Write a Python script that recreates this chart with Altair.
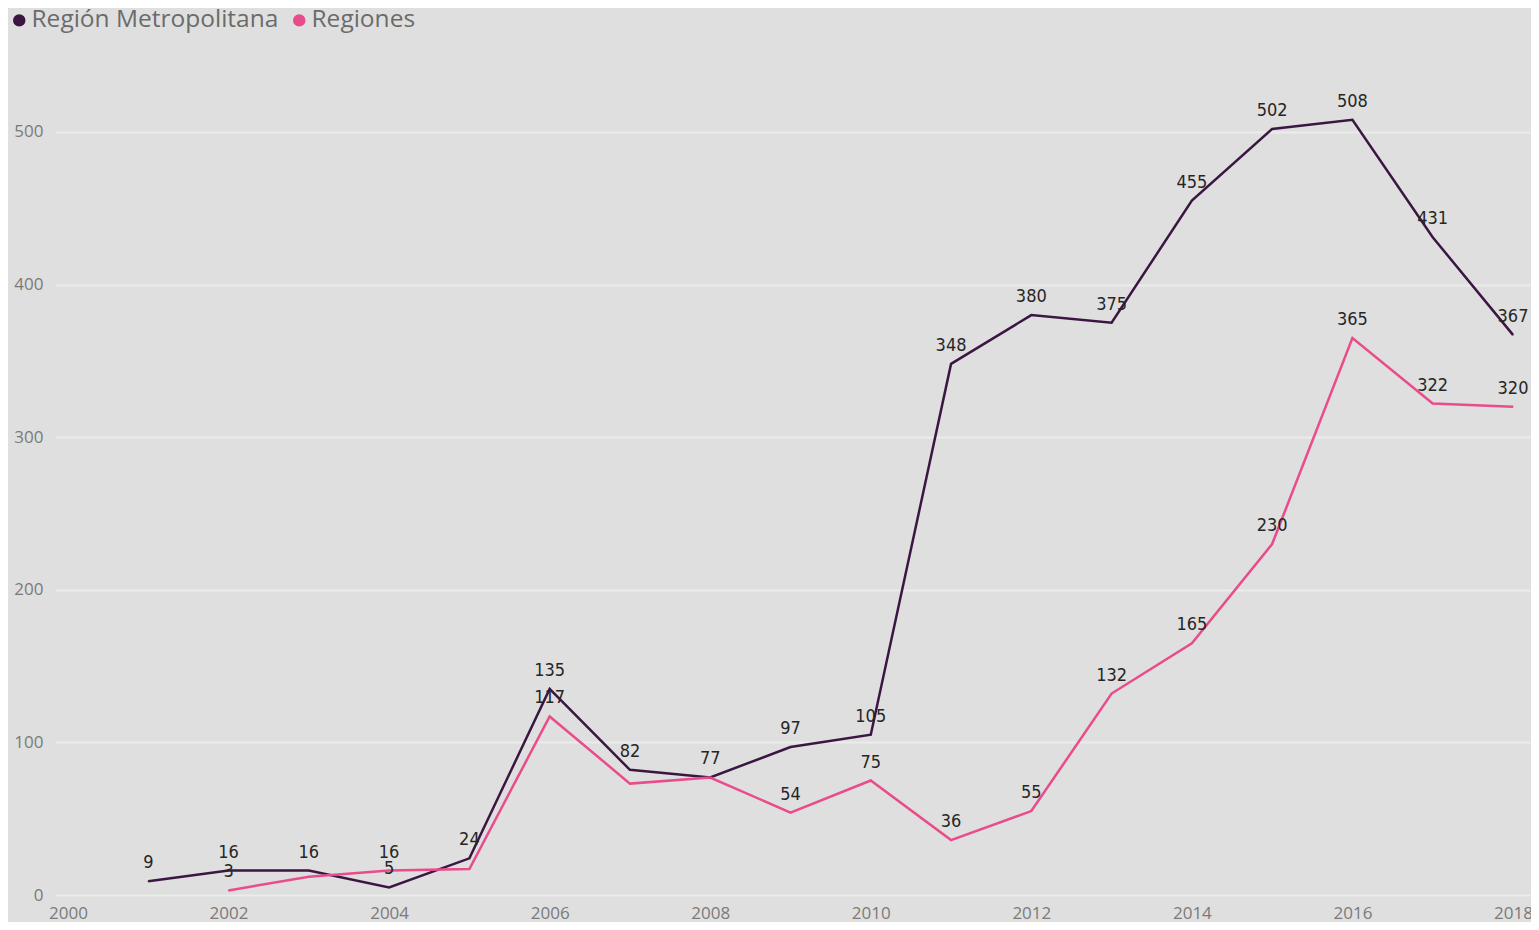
import altair as alt
import pandas as pd

years_metro = list(range(2001, 2019))
metro = [9, 16, 16, 5, 24, 135, 82, 77, 97, 105, 348, 380, 375, 455, 502, 508, 431, 367]
years_reg = list(range(2002, 2019))
regiones = [3, 12, 16, 17, 117, 73, 77, 54, 75, 36, 55, 132, 165, 230, 365, 322, 320]
reg_hidden_labels = [2003, 2005, 2007, 2008]

series_names = ["Región Metropolitana", "Regiones"]
series_colors = ["#3c1642", "#ea4b8b"]
x_ticks = [2000, 2002, 2004, 2006, 2008, 2010, 2012, 2014, 2016, 2018]
y_ticks = [0, 100, 200, 300, 400, 500]

rows = []
for y, v in zip(years_metro, metro):
    rows.append({"serie": series_names[0], "year": y, "value": v, "label": str(v)})
for y, v in zip(years_reg, regiones):
    rows.append({"serie": series_names[1], "year": y, "value": v,
                 "label": "" if y in reg_hidden_labels else str(v)})
df = pd.DataFrame(rows)

x = alt.X("year:Q", scale=alt.Scale(domain=[1999.838, 2018.212], nice=False, zero=False),
          axis=alt.Axis(values=x_ticks, format="d", title=None, grid=False, domain=False,
                        ticks=False, labelFontSize=17, labelColor="#7a7a7a",
                        labelFont="Open Sans", labelPadding=10, labelFlush=False))
y = alt.Y("value:Q", scale=alt.Scale(domain=[0, 555], nice=False),
          axis=alt.Axis(values=y_ticks, title=None, grid=True, gridColor="#ececec",
                        gridWidth=2, domain=False, ticks=False, labelFontSize=17,
                        labelColor="#7a7a7a", labelFont="Open Sans", labelPadding=12))


def legend():
    return alt.Legend(title=None, orient="none", direction="horizontal",
                      legendX=-48, legendY=-40, symbolType="circle",
                      symbolSize=120, labelFontSize=24.5, labelColor="#6b6b6b",
                      labelFont="Open Sans", labelOffset=0,
                      labelLimit=400, columnPadding=8)


stroke = alt.Stroke("serie:N", scale=alt.Scale(domain=series_names, range=series_colors),
                    legend=legend())
fill = alt.Fill("serie:N", scale=alt.Scale(domain=series_names, range=series_colors),
                legend=legend())

lines = alt.Chart(df).mark_line(strokeWidth=2.5).encode(x=x, y=y, stroke=stroke,
                                                       order="year:Q")
dots = alt.Chart(df).mark_circle(size=2, opacity=1).encode(x="year:Q", y="value:Q", fill=fill)
texts = alt.Chart(df).mark_text(dy=-18, fontSize=18, color="#262626",
                                font="DejaVu Sans Condensed, Liberation Sans Narrow, Roboto",
                                baseline="middle").encode(
    x="year:Q", y="value:Q", text="label:N")

chart = alt.layer(lines, dots, texts).properties(
    width=1475, height=847, background="#dfdfdf",
    autosize=alt.AutoSizeParams(type="none"),
    padding={"left": 47, "top": 40, "right": 1, "bottom": 27},
).configure_view(stroke=None)

chart.save("out.html", embed_options={"renderer": "svg", "actions": False})
